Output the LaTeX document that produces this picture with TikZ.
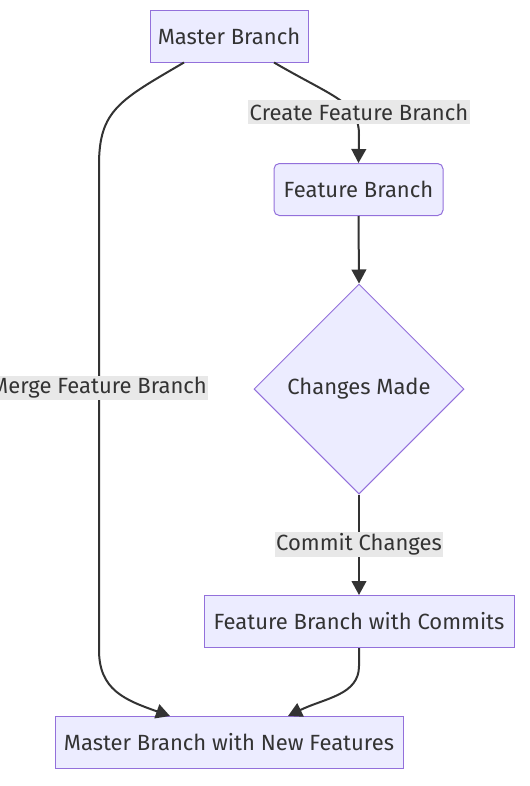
\documentclass[tikz,border=0pt]{standalone}
\usepackage{fontspec}
\setmainfont{Fira Sans}
\usetikzlibrary{shapes.geometric,arrows.meta,calc}
\definecolor{nodefill}{HTML}{ECECFF}
\definecolor{nodeline}{HTML}{9370DB}
\definecolor{edgecol}{HTML}{333333}
\definecolor{lblbg}{HTML}{E8E8E8}
\begin{document}
\begin{tikzpicture}[x=0.75pt,y=-0.75pt,
  every node/.style={font=\fontsize{16.5}{19}\selectfont, text=edgecol},
  box/.style={draw=nodeline, fill=nodefill, line width=0.75pt, minimum height=52*0.75pt, inner sep=0pt},
  rbox/.style={box, rounded corners=4pt},
  dia/.style={diamond, draw=nodeline, fill=nodefill, line width=0.75pt, minimum width=210*0.75pt, minimum height=210*0.75pt, inner sep=0pt},
  lbl/.style={fill=lblbg, inner sep=1pt, minimum height=24*0.75pt},
  edge/.style={draw=edgecol, line width=1.5pt, -{Triangle[length=10.5pt,width=11pt]}}]
\useasboundingbox (0,0) rectangle (530,786);
\node[box, minimum width=158*0.75pt] (mb) at (229,36) {Master Branch};
\node[rbox, minimum width=169*0.75pt] (fb) at (358.5,189.5) {Feature Branch};
\node[dia] (cm) at (359,389) {Changes Made};
\node[box, minimum width=310*0.75pt] (fbc) at (359,621.5) {Feature Branch with Commits};
\node[box, minimum width=348*0.75pt] (mbn) at (229,742.5) {Master Branch with New Features};
\coordinate (a1) at ($(mb.south)+(45,0)$);
\coordinate (a2) at ($(mb.south)+(-45,0)$);
\coordinate (b1) at ($(mbn.north)+(-59,0)$);
\coordinate (b2) at ($(mbn.north)+(59,0)$);
\draw[edge] (a1) .. controls (335,98) and (359,102) .. (359,135) -- (fb.north);
\draw[edge] (a2) .. controls (120,100) and (99,110) .. (99,165) -- (99,650) .. controls (99,690) and (125,700) .. (b1);
\draw[edge] (fb.south) -- (cm.north);
\draw[edge] (cm.south) -- (fbc.north);
\draw[edge] (fbc.south) -- ($(fbc.south)+(0,18)$) .. controls (359,695) and (325,698) .. (b2);
\node[lbl] (l1) at (359,112) {Create Feature Branch};
\node[lbl] (l2) at (99,388) {Merge Feature Branch};
\node[lbl] (l3) at (359,544.5) {Commit Changes};
\end{tikzpicture}
\end{document}
